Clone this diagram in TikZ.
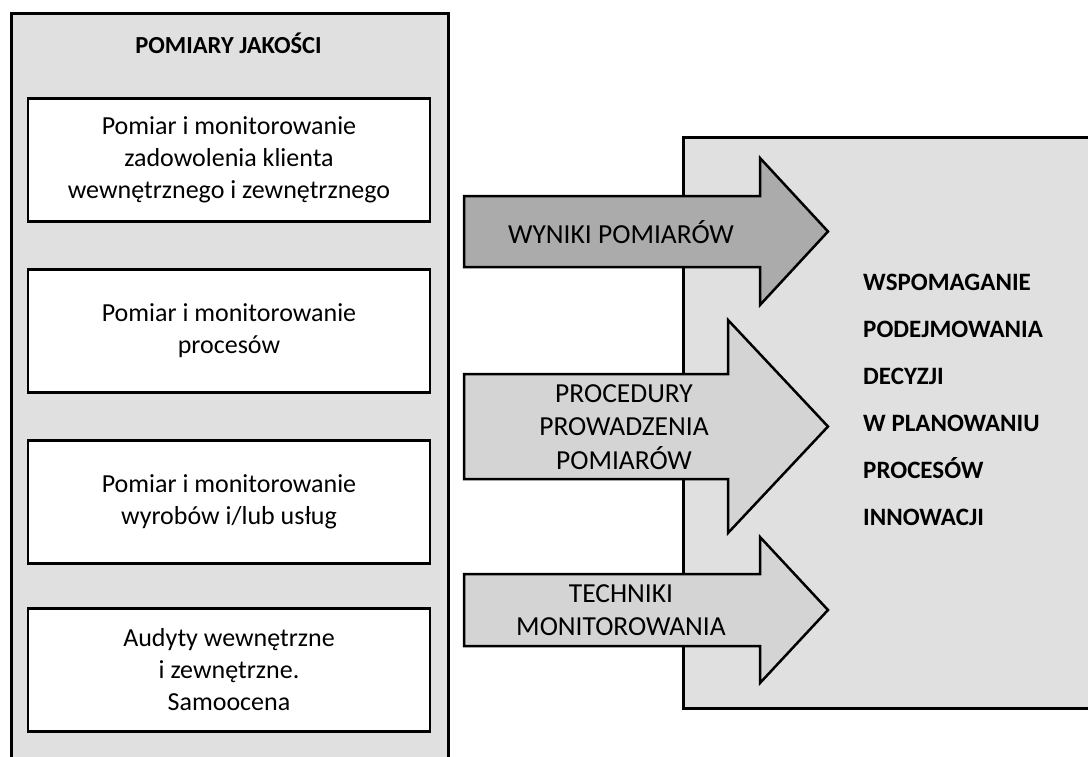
\documentclass[tikz,border=0pt]{standalone}
\usepackage{fontspec}
\setmainfont{Carlito}
\usetikzlibrary{positioning}

\definecolor{panelgray}{HTML}{E0E0E0}
\definecolor{darkarrow}{HTML}{ABABAB}
\definecolor{lightarrow}{HTML}{D4D4D4}

% block arrow: fill, centre y, shaft half width, head base x, head half width
\newcommand{\blockarrow}[5]{%
  \draw[arrowshape, fill=#1] (464,{#2-#3}) -- (#4,{#2-#3}) -- (#4,{#2-#5}) -- (828,#2)
    -- (#4,{#2+#5}) -- (#4,{#2+#3}) -- (464,{#2+#3}) -- cycle;}

\begin{document}
\begin{tikzpicture}[x=1pt, y=-1pt, line join=miter]
    % Define styles for panels, boxes and arrows
    \tikzstyle{panel} = [draw, fill=panelgray, line width=3pt, rectangle, inner sep=0pt]
    \tikzstyle{mbox} = [draw, fill=white, line width=2.5pt, rectangle, minimum width=402pt, minimum height=123pt, align=center, font=\fontsize{26}{32}\selectfont]
    \tikzstyle{arrowshape} = [draw, line width=2.5pt]
    \tikzstyle{arrowtext} = [align=center, inner sep=0pt, font=\fontsize{27.5}{33.5}\selectfont]

    \useasboundingbox (0,0) rectangle (1088,756);
    \clip (0,0) rectangle (1088,756);

    % Left panel with the measurement boxes
    \node [panel, anchor=north west, minimum width=437pt, minimum height=770pt] (quality) at (10,12) {};
    \node [font=\bfseries\fontsize{24.5}{30}\selectfont] (qualitylabel) at (228.5,43) {POMIARY JAKOŚCI};
    \node [mbox] (clients) at (229,160) {Pomiar i monitorowanie\\zadowolenia klienta\\wewnętrznego i zewnętrznego};
    \node [mbox] (processes) at (229,331) {Pomiar i monitorowanie\\procesów};
    \node [mbox] (products) at (229,502) {Pomiar i monitorowanie\\wyrobów i/lub usług};
    \node [mbox] (audits) at (229,670) {Audyty wewnętrzne\\i zewnętrzne.\\Samoocena};

    % Right panel
    \node [panel, anchor=north west, minimum width=430pt, minimum height=571pt] (support) at (682,136) {};
    \node [anchor=west, align=left, inner sep=0pt, font=\bfseries\fontsize{25}{47}\selectfont] (supportlabel) at (863,400)
        {WSPOMAGANIE\\PODEJMOWANIA\\DECYZJI\\W PLANOWANIU\\PROCESÓW\\INNOWACJI};

    % Arrows between the panels
    \blockarrow{darkarrow}{231.5}{35.5}{760}{73.5}
    \blockarrow{lightarrow}{426.5}{52.5}{728}{106.5}
    \blockarrow{lightarrow}{610}{36}{760}{73}
    \node [arrowtext] (results) at (621,232) {WYNIKI POMIARÓW};
    \node [arrowtext] (procedures) at (624,427) {PROCEDURY\\PROWADZENIA\\POMIARÓW};
    \node [arrowtext] (techniques) at (621,610) {TECHNIKI\\MONITOROWANIA};
\end{tikzpicture}
\end{document}
